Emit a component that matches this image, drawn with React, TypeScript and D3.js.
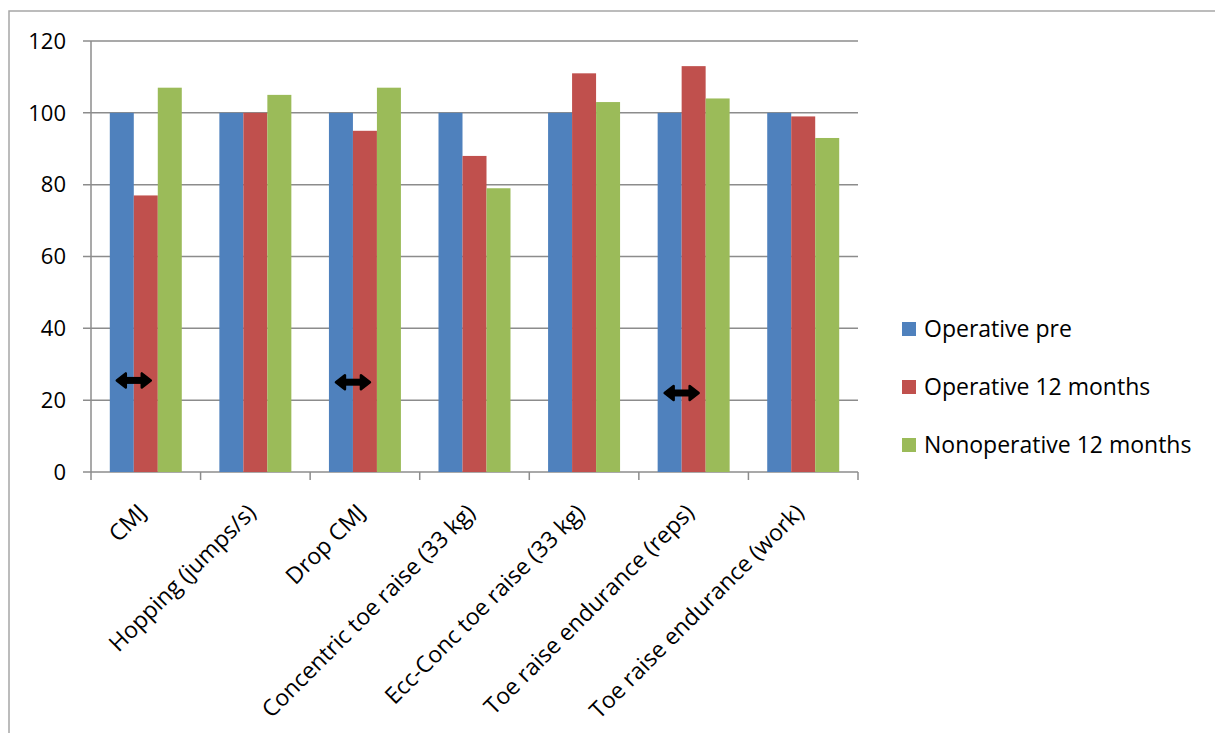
import React from "react";
import * as d3 from "d3";

const categories = [
  "CMJ",
  "Hopping (jumps/s)",
  "Drop CMJ",
  "Concentric toe raise (33 kg)",
  "Ecc-Conc toe raise (33 kg)",
  "Toe raise endurance (reps)",
  "Toe raise endurance (work)",
];
const seriesNames = ["Operative pre", "Operative 12 months", "Nonoperative 12 months"];
const operativePre = [100, 100, 100, 100, 100, 100, 100];
const operative12 = [77, 100, 95, 88, 111, 113, 99];
const nonoperative12 = [107, 105, 107, 79, 103, 104, 93];
const seriesColors = ["#4F81BD", "#C0504D", "#9BBB59"];
const yTicks = [0, 20, 40, 60, 80, 100, 120];
// double-headed arrow markers: category index and value level
const arrowCats = [0, 2, 5];
const arrowValues = [25.5, 25, 22];

const W = 1215;
const H = 733;
const left = 91;
const right = 858;
const top = 41;
const bottom = 472;
const font = "'Open Sans', sans-serif";

export default function App() {
  const series = [operativePre, operative12, nonoperative12];
  const x = d3.scaleBand<string>().domain(categories).range([left, right]).paddingInner(0.343).paddingOuter(0.1715);
  const x1 = d3.scaleBand<number>().domain([0, 1, 2]).range([0, x.bandwidth()]);
  const y = d3.scaleLinear().domain([0, 120]).range([bottom, top]);
  const step = (right - left) / categories.length;
  const gridColor = "#8C8C8C";

  return (
    <svg width={W} height={H} style={{ position: "absolute", left: 0, top: 0, background: "#fff" }}>
      <rect x={9} y={11} width={W + 20} height={H + 20} fill="#fff" stroke="#A6A6A6" strokeWidth={1.5} />
      {yTicks.map((t) => (
        <g key={t}>
          <line x1={left - 8} x2={right} y1={y(t)} y2={y(t)} stroke={gridColor} strokeWidth={1.5} />
          <text x={66} y={y(t)} dy="0.35em" textAnchor="end" fontFamily={font} fontSize={22} fill="#000">
            {t}
          </text>
        </g>
      ))}
      <line x1={left} x2={left} y1={top} y2={bottom + 8} stroke={gridColor} strokeWidth={1.5} />
      {categories.map((c, i) => (
        <line key={c} x1={left + step * (i + 1)} x2={left + step * (i + 1)} y1={bottom} y2={bottom + 8} stroke={gridColor} strokeWidth={1.5} />
      ))}
      {categories.map((c, i) =>
        series.map((s, k) => (
          <rect
            key={c + k}
            x={(x(c) as number) + (x1(k) as number)}
            y={y(s[i])}
            width={x1.bandwidth()}
            height={y(0) - y(s[i])}
            fill={seriesColors[k]}
          />
        ))
      )}
      {arrowCats.map((ci, j) => {
        const cx = (x(categories[ci]) as number) + (x1(1) as number);
        const cy = y(arrowValues[j]);
        const hw = 17;
        const x0 = cx - hw;
        const x2 = cx + hw;
        const p = d3.path();
        p.moveTo(x0, cy);
        p.lineTo(x0 + 9, cy - 7);
        p.lineTo(x0 + 9, cy + 7);
        p.closePath();
        p.moveTo(x2, cy);
        p.lineTo(x2 - 9, cy - 7);
        p.lineTo(x2 - 9, cy + 7);
        p.closePath();
        return (
          <g key={ci}>
            <line x1={x0 + 4} x2={x2 - 4} y1={cy} y2={cy} stroke="#000" strokeWidth={7} />
            <path d={p.toString()} fill="#000" stroke="#000" strokeWidth={2.5} strokeLinejoin="round" />
          </g>
        );
      })}
      {categories.map((c, i) => {
        const cx = left + step * (i + 0.5);
        return (
          <text
            key={c}
            transform={`translate(${cx + 2},${bottom + 42}) rotate(-45)`}
            textAnchor="end"
            fontFamily={font}
            fontSize={23}
            fill="#000"
          >
            {c}
          </text>
        );
      })}
      {seriesNames.map((n, k) => (
        <g key={n} transform={`translate(902,${329 + k * 58})`}>
          <rect x={0} y={-7} width={14} height={14} fill={seriesColors[k]} />
          <text x={22} y={0} dy="0.35em" fontFamily={font} fontSize={23} fill="#000">
            {n}
          </text>
        </g>
      ))}
    </svg>
  );
}
